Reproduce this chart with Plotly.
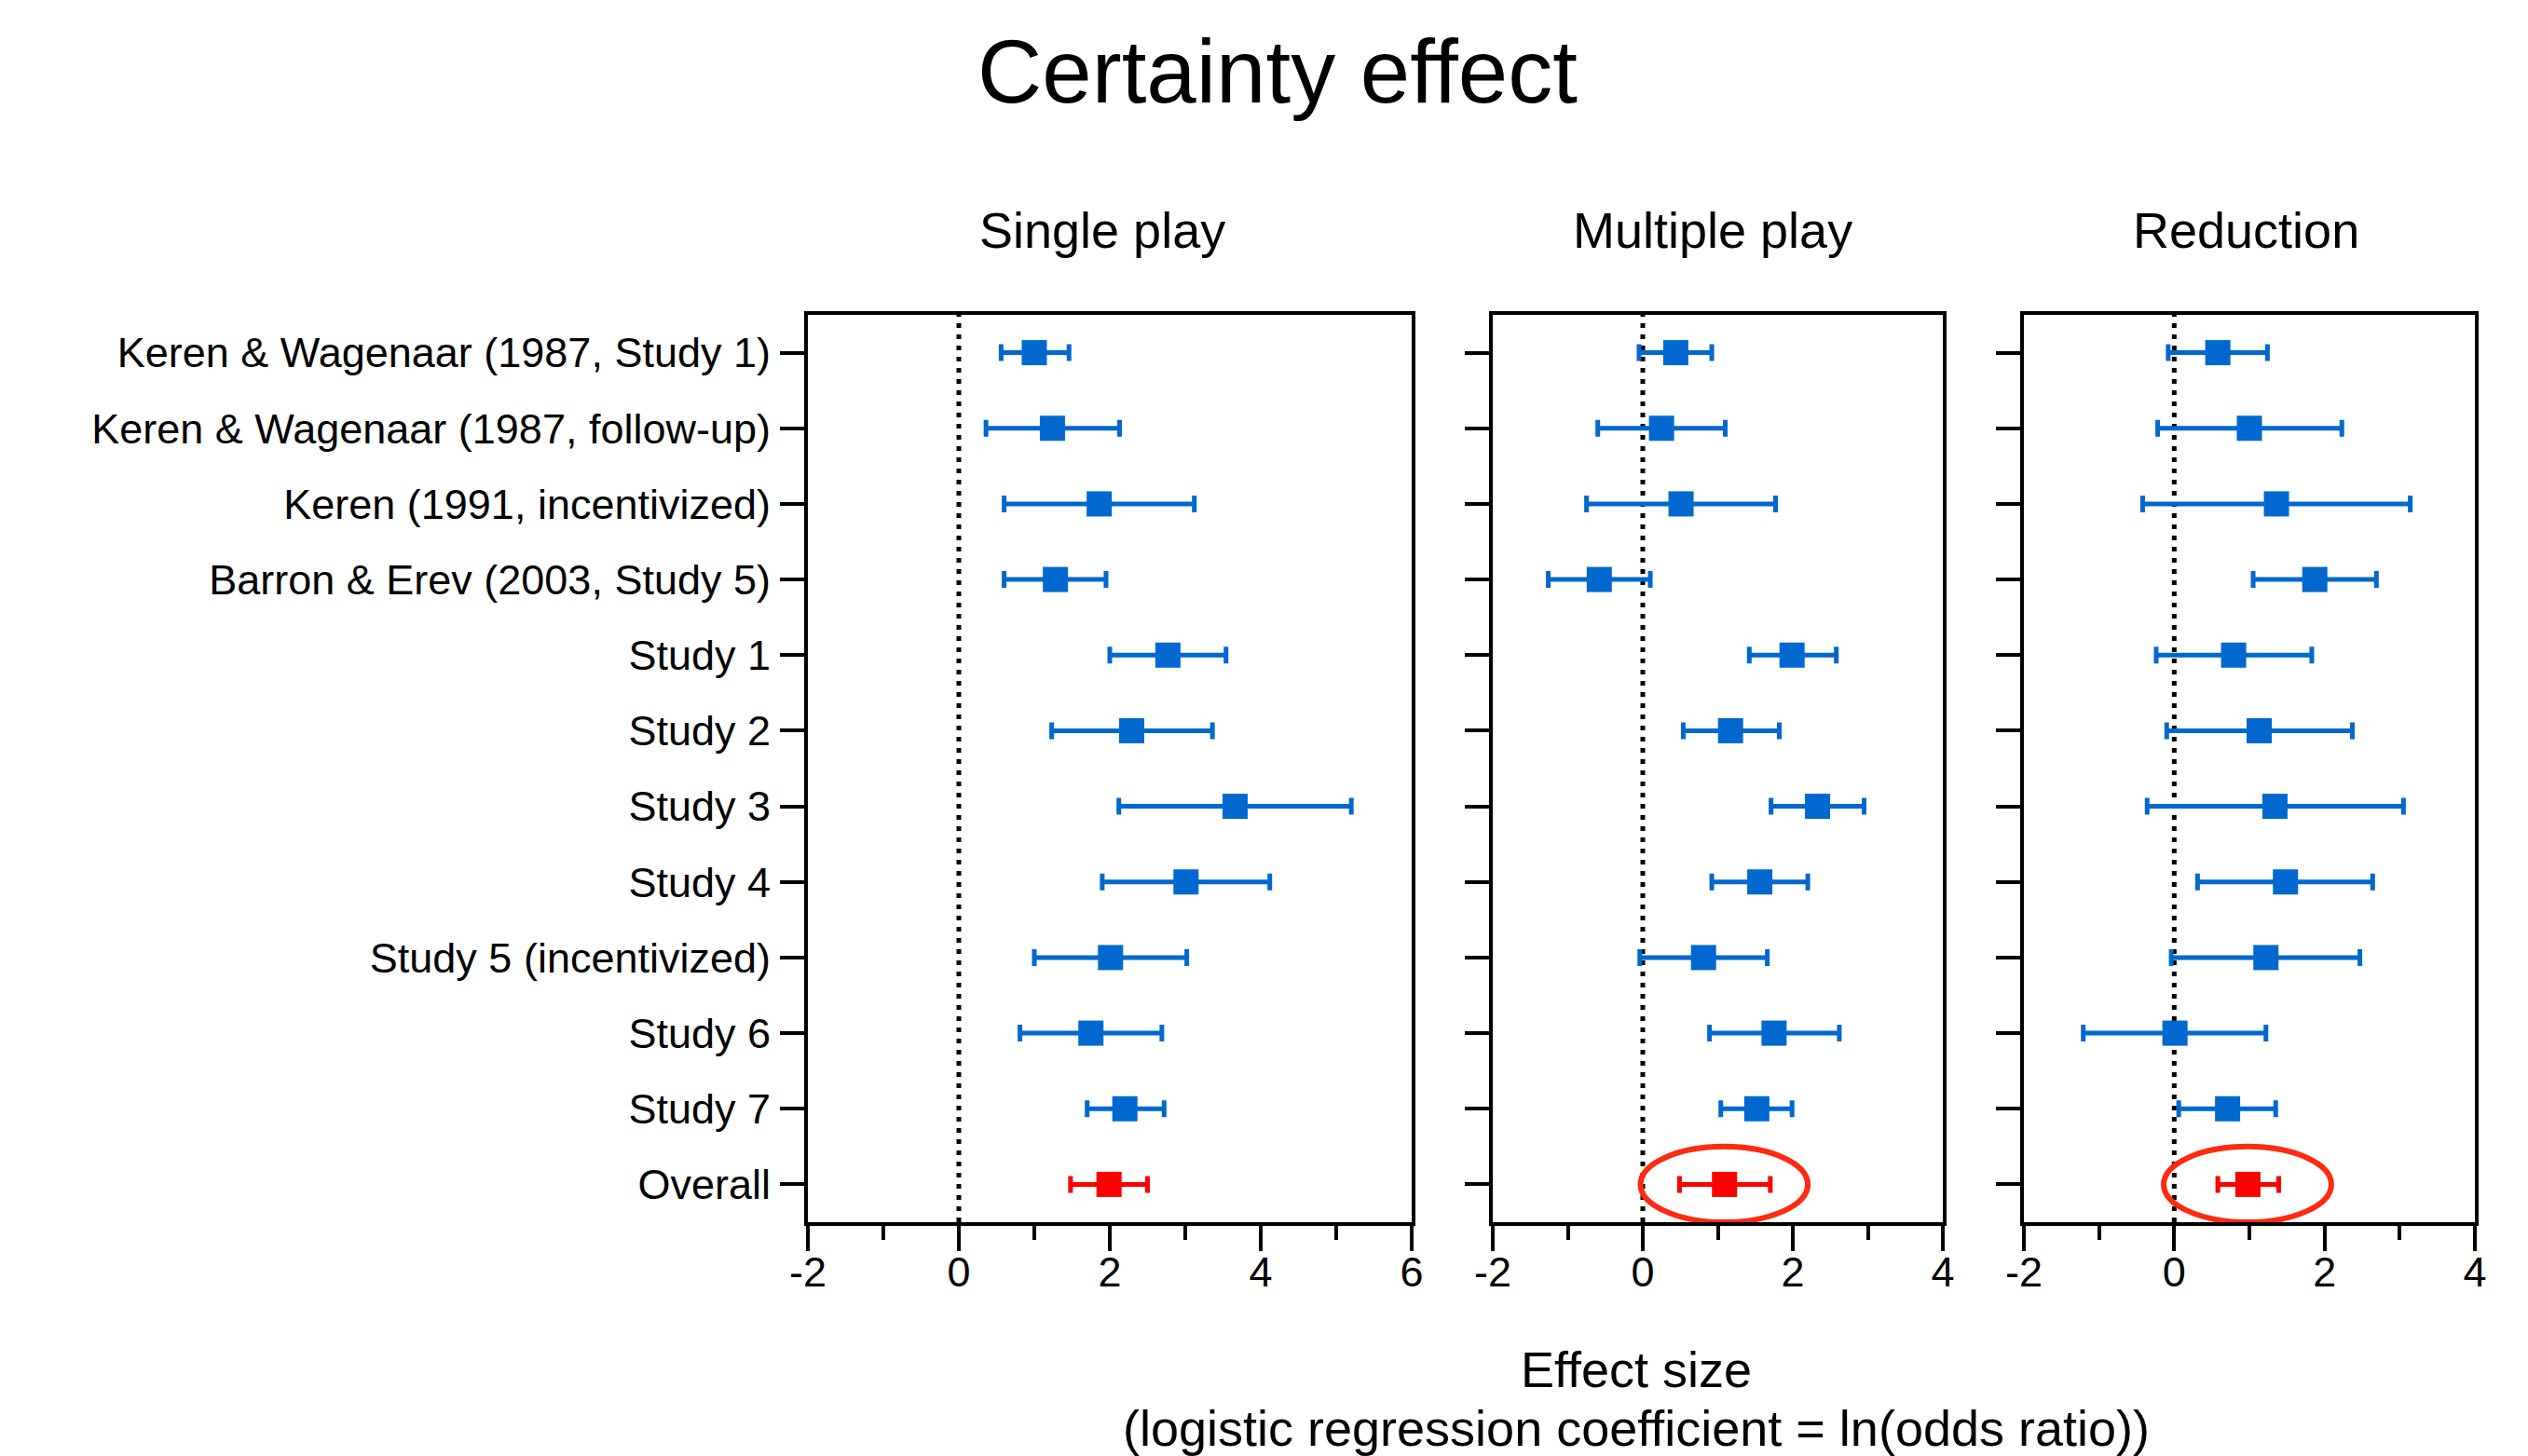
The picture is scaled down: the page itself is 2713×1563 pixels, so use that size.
import plotly.graph_objects as go

# ---------------- data ----------------
studies = [
    "Keren & Wagenaar (1987, Study 1)",
    "Keren & Wagenaar (1987, follow-up)",
    "Keren (1991, incentivized)",
    "Barron & Erev (2003, Study 5)",
    "Study 1",
    "Study 2",
    "Study 3",
    "Study 4",
    "Study 5 (incentivized)",
    "Study 6",
    "Study 7",
    "Overall",
]

single_est = [1.00, 1.24, 1.86, 1.28, 2.77, 2.29, 3.66, 3.01, 2.01, 1.75, 2.20, 1.99]
single_lo = [0.56, 0.36, 0.60, 0.60, 2.00, 1.23, 2.12, 1.90, 1.00, 0.81, 1.70, 1.48]
single_hi = [1.46, 2.13, 3.12, 1.95, 3.54, 3.36, 5.20, 4.12, 3.02, 2.69, 2.72, 2.50]

multi_est = [0.44, 0.25, 0.51, -0.58, 1.99, 1.17, 2.33, 1.56, 0.81, 1.75, 1.52, 1.09]
multi_lo = [-0.05, -0.60, -0.75, -1.26, 1.42, 0.54, 1.71, 0.92, -0.04, 0.89, 1.04, 0.49]
multi_hi = [0.92, 1.10, 1.77, 0.10, 2.58, 1.82, 2.95, 2.20, 1.66, 2.62, 1.99, 1.70]

red_est = [0.58, 1.00, 1.36, 1.87, 0.79, 1.13, 1.34, 1.48, 1.22, 0.01, 0.71, 0.98]
red_lo = [-0.08, -0.22, -0.42, 1.05, -0.24, -0.10, -0.36, 0.31, -0.04, -1.21, 0.06, 0.58]
red_hi = [1.24, 2.23, 3.14, 2.69, 1.83, 2.37, 3.05, 2.64, 2.47, 1.22, 1.35, 1.39]

panel_titles = ["Single play", "Multiple play", "Reduction"]
x_ranges = [[-2, 6], [-2, 4], [-2, 4]]
x_major = [[-2, 0, 2, 4, 6], [-2, 0, 2, 4], [-2, 0, 2, 4]]
x_minor = [[-1, 1, 3, 5], [-1, 1, 3], [-1, 1, 3]]

# highlight ellipses around "Overall" (panel index, x0, x1)
ellipses = [(1, -0.03, 2.20), (2, -0.14, 2.09)]

# ---------------- styling ----------------
W, H = 2713, 1563
FONT = "Liberation Sans, Arial, Helvetica, sans-serif"
BLUE = "#0068cf"
RED = "#ff0000"
ELLIPSE = "#ff2a10"

panel_px = [(867, 1515), (1602, 2085), (2172, 2656)]
title_cx = [1183, 1838, 2410]
y_px = (338, 1312)

def fx(p):
    return p / W

def fy(p):
    return 1 - p / H

fig = go.Figure()

n = len(studies)
ypos = list(range(n))
panels = [
    (single_est, single_lo, single_hi),
    (multi_est, multi_lo, multi_hi),
    (red_est, red_lo, red_hi),
]

for i, (est, lo, hi) in enumerate(panels):
    xa = "x" if i == 0 else f"x{i+1}"
    ya = "y" if i == 0 else f"y{i+1}"
    for idx_set, col in [(list(range(n - 1)), BLUE), ([n - 1], RED)]:
        fig.add_trace(go.Scatter(
            x=[est[k] for k in idx_set],
            y=[ypos[k] for k in idx_set],
            mode="markers",
            marker=dict(symbol="square", size=27, color=col, line=dict(width=0)),
            error_x=dict(
                type="data", symmetric=False,
                array=[hi[k] - est[k] for k in idx_set],
                arrayminus=[est[k] - lo[k] for k in idx_set],
                color=col, thickness=5, width=9,
            ),
            xaxis=xa, yaxis=ya, showlegend=False, hoverinfo="skip",
        ))

layout = dict(
    template="none",
    width=W, height=H,
    margin=dict(l=0, r=0, t=0, b=0, pad=0, autoexpand=False),
    paper_bgcolor="white", plot_bgcolor="white",
    font=dict(family=FONT, color="black"),
    showlegend=False,
)

for i in range(3):
    xkey = "xaxis" if i == 0 else f"xaxis{i+1}"
    ykey = "yaxis" if i == 0 else f"yaxis{i+1}"
    ya = "y" if i == 0 else f"y{i+1}"
    xa = "x" if i == 0 else f"x{i+1}"
    layout[xkey] = dict(
        domain=[fx(panel_px[i][0]), fx(panel_px[i][1])],
        anchor=ya,
        automargin=False,
        range=x_ranges[i],
        tickmode="array",
        tickvals=x_major[i],
        ticktext=[str(v) for v in x_major[i]],
        ticks="outside", ticklen=27, tickwidth=4, tickcolor="black",
        ticklabelstandoff=-16,
        minor=dict(tickmode="array", tickvals=x_minor[i], ticks="outside",
                   ticklen=15, tickwidth=4, tickcolor="black", showgrid=False),
        showline=True, linewidth=4, linecolor="black", mirror=True,
        showgrid=False, zeroline=False,
        tickfont=dict(size=45, family=FONT, color="black"),
        fixedrange=True,
    )
    layout[ykey] = dict(
        domain=[fy(y_px[1]), fy(y_px[0])],
        anchor=xa,
        automargin=False,
        range=[n - 0.5, -0.5],
        tickmode="array",
        tickvals=ypos,
        ticktext=studies if i == 0 else [""] * n,
        showticklabels=(i == 0),
        ticks="outside", ticklen=26, tickwidth=4, tickcolor="black",
        ticklabelstandoff=1,
        showline=True, linewidth=4, linecolor="black", mirror=True,
        showgrid=False, zeroline=False,
        tickfont=dict(size=45, family=FONT, color="black"),
        fixedrange=True,
    )

fig.update_layout(**layout)

shapes = []
for i in range(3):
    xa = "x" if i == 0 else f"x{i+1}"
    ydom = ("y" if i == 0 else f"y{i+1}") + " domain"
    shapes.append(dict(type="line", xref=xa, yref=ydom, x0=0, x1=0, y0=0, y1=1,
                       line=dict(color="black", width=5, dash="5px,7px"), layer="below"))
for (pi, x0, x1) in ellipses:
    xa = f"x{pi+1}"
    ya = f"y{pi+1}"
    shapes.append(dict(type="circle", xref=xa, yref=ya, x0=x0, x1=x1,
                       y0=n - 1 - 0.5, y1=n - 1 + 0.5,
                       line=dict(color=ELLIPSE, width=6), fillcolor="rgba(0,0,0,0)"))
fig.update_layout(shapes=shapes)

annotations = [
    dict(text="Certainty effect", x=fx(1371), y=fy(76), xref="paper", yref="paper",
         showarrow=False, font=dict(size=96, family=FONT, color="black"),
         xanchor="center", yanchor="middle"),
    dict(text="Effect size", x=fx(1756), y=fy(1470), xref="paper", yref="paper",
         showarrow=False, font=dict(size=54, family=FONT, color="black"),
         xanchor="center", yanchor="middle"),
    dict(text="(logistic regression coefficient = ln(odds ratio))", x=fx(1756), y=fy(1533),
         xref="paper", yref="paper",
         showarrow=False, font=dict(size=54, family=FONT, color="black"),
         xanchor="center", yanchor="middle"),
]
for i, t in enumerate(panel_titles):
    annotations.append(dict(text=t, x=fx(title_cx[i]), y=fy(247), xref="paper", yref="paper",
                            showarrow=False, font=dict(size=54, family=FONT, color="black"),
                            xanchor="center", yanchor="middle"))
fig.update_layout(annotations=annotations)

fig.write_html(
    "out.html",
    config={"displayModeBar": False},
    post_script="document.body.style.margin='0';document.body.style.overflow='hidden';",
)
